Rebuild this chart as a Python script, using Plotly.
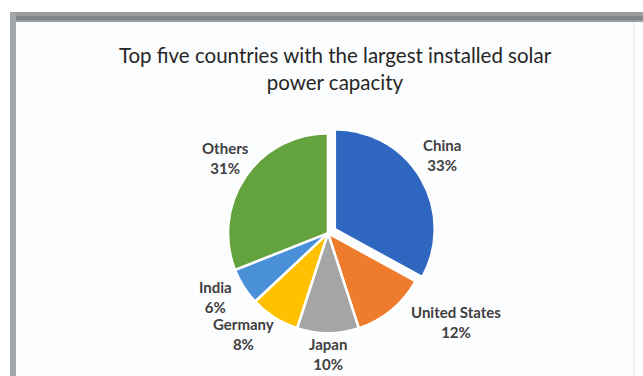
import math
import plotly.graph_objects as go

countries = ["China", "United States", "Japan", "Germany", "India", "Others"]
shares = [33, 12, 10, 8, 6, 31]
colors = ["#2E66C0", "#EF7B2D", "#A5A5A5", "#FFC000", "#4A90D9", "#64A23E"]
pulls = [0.08, 0, 0, 0, 0, 0]
# small pixel nudges of each data label (style only)
label_nudge = [(0, -2), (17, -9), (0, 0), (2, -4), (-10, -11), (6, 2)]
title_text = "Top five countries with the largest installed solar<br>power capacity"

W, H = 643, 376
dom_x = [0.510 - 0.168, 0.510 + 0.168]
dom_y = [0.380 - 0.287, 0.380 + 0.287]
label_size = 15

fig = go.Figure()
fig.add_trace(go.Pie(
    labels=countries,
    values=shares,
    sort=False,
    direction="clockwise",
    rotation=0,
    pull=pulls,
    marker=dict(colors=colors, line=dict(color="white", width=2.5)),
    textinfo="none",
    showlegend=False,
    hoverinfo="label+percent",
    automargin=False,
    domain=dict(x=dom_x, y=dom_y),
))

# data labels placed just outside each slice, at the slice's mid-angle
cx = (dom_x[0] + dom_x[1]) / 2 * W
cy = (1 - (dom_y[0] + dom_y[1]) / 2) * H
r = min((dom_x[1] - dom_x[0]) * W, (dom_y[1] - dom_y[0]) * H) / 2 / (1 + max(pulls))
total = sum(shares)
cum = 0
annotations = []
for name, v, p, (nx, ny) in zip(countries, shares, pulls, label_nudge):
    mid = (cum + v / 2) / total * 2 * math.pi
    cum += v
    s, c = math.sin(mid), math.cos(mid)
    d = r * (1 + p)
    px = cx + s * d + nx
    py = cy - c * d + ny
    xa = "left" if s > 0.2 else ("right" if s < -0.2 else "center")
    ya = "bottom" if c > 0.2 else ("top" if c < -0.2 else "middle")
    annotations.append(dict(
        x=px / W, y=1 - py / H, xref="paper", yref="paper",
        text=f"{name}<br>{v}%", showarrow=False, xanchor=xa, yanchor=ya,
        font=dict(family="Lato", size=label_size, color="#404040", weight="bold"),
    ))

fig.update_layout(
    shapes=[
        dict(type="rect", xref="paper", yref="paper", x0=10/W, x1=1, y0=1-22/H, y1=1-12/H,
             fillcolor="#9A9EA1", line=dict(width=0), layer="below"),
        dict(type="rect", xref="paper", yref="paper", x0=10/W, x1=1, y0=1-20/H, y1=1-16/H,
             fillcolor="#80868A", line=dict(width=0), layer="below"),
        dict(type="rect", xref="paper", yref="paper", x0=10/W, x1=16/W, y0=0, y1=1-12/H,
             fillcolor="#A3A7AA", line=dict(width=0), layer="below"),
        dict(type="rect", xref="paper", yref="paper", x0=16/W, x1=634/W, y0=0, y1=1-22/H,
             fillcolor="#FCFDFF", line=dict(width=0), layer="below"),
        dict(type="line", xref="paper", yref="paper", x0=634/W, x1=634/W, y0=0, y1=1-22/H,
             line=dict(color="#EEF0F3", width=2), layer="below"),
    ],
    annotations=annotations,
    title=dict(text=title_text, x=0.521, xanchor="center", y=1-63/H, yanchor="middle",
               font=dict(family="Lato", size=20.5, color="#262626")),
    width=W, height=H,
    margin=dict(l=0, r=0, t=0, b=0),
    paper_bgcolor="white",
    plot_bgcolor="white",
)

fig.write_html("out.html")
